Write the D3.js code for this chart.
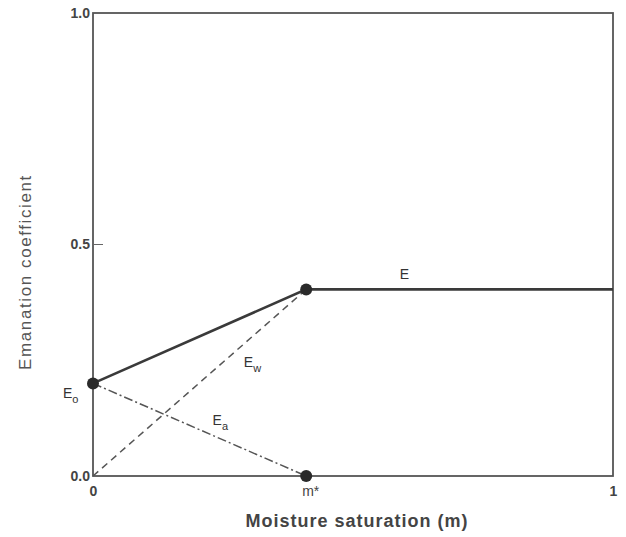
<!DOCTYPE html>
<html><head><meta charset="utf-8">
<script src="https://cdn.jsdelivr.net/npm/d3@7"></script>
<style>body{margin:0;background:#fff;} text{font-family:"Liberation Sans",Arial,sans-serif;}</style>
</head><body><svg id="c" width="626" height="537"></svg>
<script>
const mStar = 0.41;
const E0 = 0.20;
const Emax = 0.403;
const lineE = [[0, E0], [mStar, Emax], [1, Emax]];
const lineEw = [[0, 0], [mStar, Emax]];
const lineEa = [[0, E0], [mStar, 0]];
const points = [[0, E0], [mStar, Emax], [mStar, 0]];
const xTicks = [0, mStar, 1];
const xTickLabels = ["0", "m*", "1"];
const yTicks = [0, 0.5, 1];
const yTickLabels = ["0.0", "0.5", "1.0"];

const svg = d3.select("#c");
const L = 93, R = 613, T = 13, B = 476;
const x = d3.scaleLinear().domain([0, 1]).range([L, R]);
const y = d3.scaleLinear().domain([0, 1]).range([B, T]);
const ink = "#333";

// frame
svg.append("rect").attr("x", L).attr("y", T).attr("width", R - L).attr("height", B - T)
  .attr("fill", "none").attr("stroke", "#555").attr("stroke-width", 1.8);

// y ticks
const yAxis = d3.axisLeft(y).tickValues(yTicks).tickFormat((d, i) => yTickLabels[i]).tickSize(0).tickPadding(3);
const ga = svg.append("g").attr("transform", `translate(${L},0)`).call(yAxis);
ga.select(".domain").remove();
ga.selectAll("text").attr("font-size", 14).attr("font-weight", "bold").attr("fill", "#444");
svg.append("line").attr("x1", L).attr("x2", L + 10).attr("y1", y(0.5)).attr("y2", y(0.5)).attr("stroke", "#666").attr("stroke-width", 1);

// x ticks
const xAxis = d3.axisBottom(x).tickValues(xTicks).tickFormat((d, i) => xTickLabels[i]).tickSize(0).tickPadding(10);
const gb = svg.append("g").attr("transform", `translate(0,${B})`).call(xAxis);
gb.select(".domain").remove();
gb.selectAll("text").attr("font-size", 14).attr("fill", "#444")
  .attr("font-weight", (d, i) => i === 1 ? "normal" : "bold")
  .attr("dx", (d, i) => i === 1 ? 4 : 0);

// lines
const lg = d3.line().x(d => x(d[0])).y(d => y(d[1]));
svg.append("path").attr("d", lg(lineEw)).attr("fill", "none").attr("stroke", "#555").attr("stroke-width", 1.5).attr("stroke-dasharray", "7,5");
svg.append("path").attr("d", lg(lineEa)).attr("fill", "none").attr("stroke", "#555").attr("stroke-width", 1.5).attr("stroke-dasharray", "9,3,2,3");
svg.append("path").attr("d", lg(lineE)).attr("fill", "none").attr("stroke", "#3a3a3a").attr("stroke-width", 2.6);

svg.selectAll("circle.pt").data(points).enter().append("circle")
  .attr("cx", d => x(d[0])).attr("cy", d => y(d[1])).attr("r", 6).attr("fill", "#2a2a2a");

// labels
function lab(px, py, main, sub) {
  const t = svg.append("text").attr("x", px).attr("y", py).attr("font-size", 14).attr("fill", ink);
  t.append("tspan").text(main);
  if (sub) t.append("tspan").attr("dy", 5).attr("font-size", 11).text(sub);
}
lab(x(0) - 30, y(E0) + 15, "E", "o");
lab(x(0.29), y(0.235), "E", "w");
lab(x(0.23), y(0.11), "E", "a");
lab(x(0.59), y(Emax) - 10, "E");

// titles
svg.append("text").attr("transform", `translate(31,272) rotate(-90)`).attr("text-anchor", "middle")
  .attr("font-size", 17).attr("letter-spacing", 1.6).attr("fill", "#555").text("Emanation coefficient");
svg.append("text").attr("x", 357).attr("y", 527).attr("text-anchor", "middle")
  .attr("font-size", 18).attr("letter-spacing", 1).attr("font-weight", "bold").attr("fill", "#444").text("Moisture saturation (m)");
</script></body></html>
